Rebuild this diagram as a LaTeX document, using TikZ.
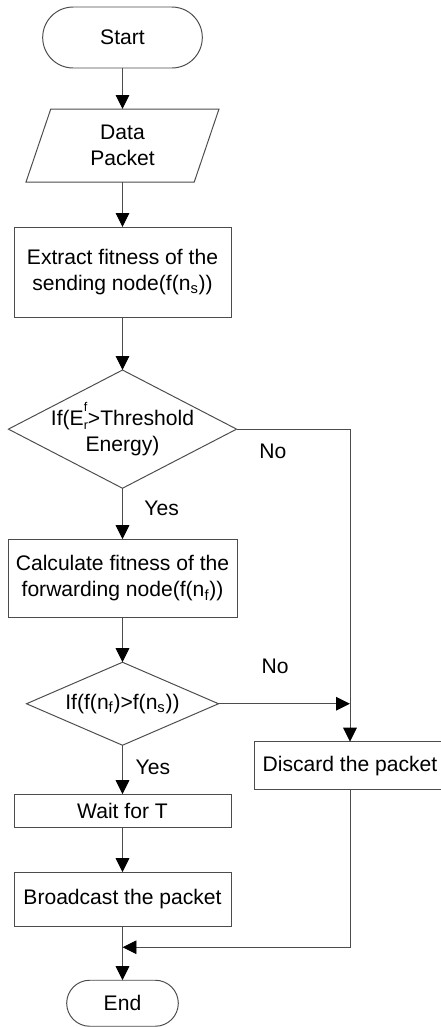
\documentclass[tikz,border=0pt]{standalone}
\usepackage{fontspec}
\setmainfont{Liberation Sans}
\usetikzlibrary{shapes.geometric,shapes.misc,arrows.meta,positioning}

\begin{document}
\begin{tikzpicture}[font=\fontsize{15}{18.5}\selectfont,
    every node/.style={outer sep=0pt},
    term/.style={rounded rectangle, draw=black!70, line width=0.7pt},
    proc/.style={rectangle, draw=black!70, line width=0.7pt, align=center},
    io/.style={trapezium, trapezium left angle=63.7, trapezium right angle=116.3,
               trapezium stretches body, draw=black!70, line width=0.7pt, align=center},
    decide/.style={diamond, draw=black!70, line width=0.7pt, inner sep=-2pt, align=center},
    arrow/.style={draw=black!70, line width=0.7pt,
                  -{Triangle[width=0.34cm,length=0.35cm,color=black]}},
    line/.style={draw=black!70, line width=0.7pt},
    lbl/.style={inner sep=0pt}]
    \useasboundingbox (-3.0625,0.9375) rectangle (7.9625,-24.7375);
    % Add the main column
    \node[term,
          minimum width=4.225cm,
          minimum height=1.525cm] (start) at (0,0) {Start};
    \node[io,
          below=1.025cm of start,
          minimum width=4.825cm,
          minimum height=1.825cm] (data) {Data\\Packet};
    \node[proc,
          below=1.125cm of data,
          minimum width=5.425cm,
          minimum height=2.25cm] (extract) {Extract fitness of the\\sending node(f(n\textsubscript{s}))};
    \node[decide,
          below=1.325cm of extract,
          aspect=1.93,
          minimum width=5.7cm,
          minimum height=2.95cm] (cond1) {If(E\rlap{\raisebox{0.62em}{\fontsize{9}{9}\selectfont f}}\raisebox{-0.22em}{\fontsize{9}{9}\selectfont r}>Threshold\\Energy)};
    \node[proc,
          below=1.275cm of cond1,
          minimum width=5.725cm,
          minimum height=1.95cm] (calc) {Calculate fitness of the\\forwarding node(f(n\textsubscript{f}))};
    \node[decide,
          below=1.125cm of calc,
          aspect=2.31,
          minimum width=4.8cm,
          minimum height=2.075cm] (cond2) {If(f(n\textsubscript{f})>f(n\textsubscript{s}))};
    \node[proc,
          below=1.225cm of cond2,
          minimum width=5.425cm,
          minimum height=0.825cm] (wait) {Wait for T};
    \node[proc,
          below=1.125cm of wait,
          minimum width=5.425cm,
          minimum height=1.35cm] (bcast) {Broadcast the packet};
    \node[term,
          below=1.35cm of bcast,
          minimum width=3.025cm,
          minimum height=1.15cm] (stop) {End};
    % Add the side branch
    \coordinate (jn) at (5.6875,0 |- cond1.east);
    \coordinate (jn2) at (jn |- cond2.east);
    \node[proc,
          below=0.95cm of jn2,
          minimum width=4.8cm,
          minimum height=1.2cm] (discard) {Discard the packet};
    \coordinate[below=0.525cm of bcast.south] (mrg);
    % Connect the nodes with arrows
    \draw[arrow] (start) -- (data);
    \draw[arrow] (data) -- (extract);
    \draw[arrow] (extract) -- (cond1);
    \draw[arrow] (cond1) -- node[lbl, pos=0.40, right=0.55cm] {Yes} (calc);
    \draw[arrow] (calc) -- (cond2);
    \draw[arrow] (cond2) -- node[lbl, pos=0.45, right=0.33cm] {Yes} (wait);
    \draw[arrow] (wait) -- (bcast);
    \draw[arrow] (bcast) -- (stop);
    \draw[arrow] (cond1.east) -- node[lbl, pos=0.32, below=0.37cm] {No} (jn) -- (discard);
    \draw[arrow] (cond2.east) -- node[lbl, pos=0.43, above=0.75cm] {No} (jn2);
    \draw[arrow] (discard) |- (mrg);
\end{tikzpicture}
\end{document}
